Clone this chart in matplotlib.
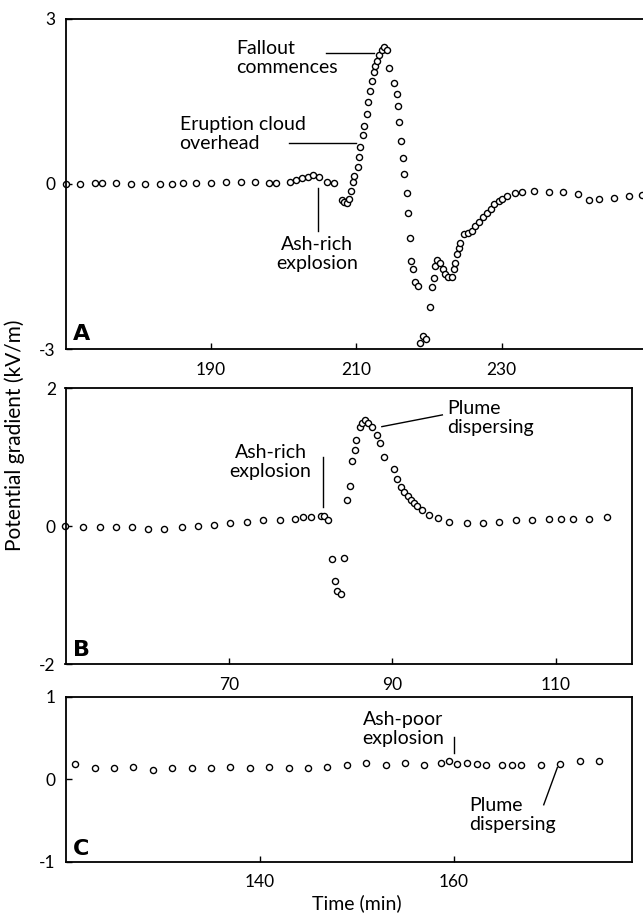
import matplotlib
matplotlib.use("Agg")
import matplotlib.pyplot as plt

plt.rcParams["font.family"] = ["Lato", "DejaVu Sans"]
plt.rcParams["axes.unicode_minus"] = False

# panel A: ash-rich explosion, eruption cloud overhead
a_time = [170.0, 172.0, 174.0, 175.0, 177.0, 179.0, 181.0, 183.0, 184.6, 186.1,
          188.0, 190.0, 192.1, 194.2, 196.1, 198.0, 198.9, 200.9, 201.7, 202.6,
          203.3, 204.1, 204.9, 206.0, 207.0,
          208.05, 208.36, 208.68, 208.95, 209.28, 209.5, 209.74, 210.19, 210.33, 210.52,
          210.88, 211.07, 211.49, 211.66, 211.84, 212.17, 212.39, 212.63, 212.86, 213.18,
          213.49, 213.87, 214.24, 214.55, 215.14, 215.56, 215.69, 215.83, 216.16, 216.48,
          216.62, 216.93, 217.07, 217.4, 217.54, 217.76, 218.13, 218.45, 218.78, 219.14,
          219.61, 220.15, 220.43, 220.65, 220.88, 221.12, 221.53, 221.88, 222.25, 222.57,
          223.12, 223.4, 223.63, 223.86, 224.08, 224.32, 224.87, 225.42, 225.87, 226.38,
          226.93, 227.48, 227.94, 228.54, 229.0, 229.59, 230.0, 230.74, 231.88, 232.81,
          234.5, 236.46, 238.49, 240.55, 241.97, 243.44, 245.5, 247.47, 249.31]
a_value = [0.0, -0.01, 0.01, 0.01, 0.01, -0.01, 0.0, -0.01, 0.0, 0.01,
           0.02, 0.02, 0.04, 0.04, 0.04, 0.02, 0.02, 0.04, 0.07, 0.10,
           0.13, 0.16, 0.13, 0.04, 0.02,
           -0.30, -0.34, -0.35, -0.28, -0.14, 0.04, 0.14, 0.31, 0.48, 0.67,
           0.89, 1.05, 1.26, 1.48, 1.68, 1.87, 2.03, 2.13, 2.23, 2.34,
           2.42, 2.48, 2.42, 2.11, 1.82, 1.63, 1.41, 1.12, 0.78, 0.46,
           0.17, -0.16, -0.53, -0.99, -1.40, -1.55, -1.78, -1.86, -2.89, -2.76,
           -2.81, -2.24, -1.87, -1.72, -1.49, -1.38, -1.43, -1.54, -1.63, -1.69,
           -1.70, -1.54, -1.43, -1.28, -1.17, -1.07, -0.91, -0.89, -0.85, -0.77,
           -0.69, -0.60, -0.53, -0.45, -0.37, -0.31, -0.28, -0.22, -0.17, -0.15,
           -0.13, -0.15, -0.15, -0.19, -0.30, -0.27, -0.25, -0.22, -0.20]

# panel B: ash-rich explosion, plume dispersing
b_time = [50.0, 52.2, 54.2, 56.2, 58.1, 60.1, 62.1, 64.2, 66.2, 68.2,
          70.1, 72.2, 74.2, 76.2, 78.09, 79.07, 80.09, 81.22, 81.64, 82.17,
          82.66, 82.99, 83.18, 83.76, 84.09, 84.49, 84.78, 85.1, 85.39, 85.59,
          86.04, 86.33, 86.66, 87.06, 87.55, 88.08, 88.49, 88.98, 90.21, 90.61,
          91.02, 91.43, 91.84, 92.24, 92.66, 93.06, 93.59, 94.49, 95.51, 96.94,
          99.09, 101.05, 103.06, 105.07, 107.12, 109.13, 110.64, 112.14, 114.1, 116.25]
b_value = [0.0, -0.02, -0.02, -0.02, -0.02, -0.04, -0.04, -0.02, 0.0, 0.02,
           0.04, 0.06, 0.08, 0.08, 0.10, 0.13, 0.13, 0.15, 0.14, 0.08,
           -0.48, -0.79, -0.94, -0.99, -0.47, 0.38, 0.58, 0.94, 1.10, 1.25,
           1.44, 1.50, 1.53, 1.50, 1.44, 1.32, 1.20, 1.00, 0.82, 0.68,
           0.56, 0.50, 0.44, 0.38, 0.33, 0.29, 0.23, 0.16, 0.11, 0.06,
           0.05, 0.05, 0.06, 0.09, 0.09, 0.10, 0.10, 0.10, 0.10, 0.13]

# panel C: ash-poor explosion
c_time = [121, 123, 125, 127, 129, 131, 133, 135, 137, 139,
          141, 143, 145, 147, 149, 151, 153, 155, 157, 158.7,
          159.5, 160.4, 161.4, 162.4, 163.4, 165, 166, 167, 169, 171,
          173, 175]
c_value = [0.19, 0.14, 0.13, 0.15, 0.11, 0.13, 0.13, 0.13, 0.15, 0.13,
           0.15, 0.13, 0.13, 0.15, 0.17, 0.20, 0.17, 0.20, 0.17, 0.20,
           0.22, 0.19, 0.20, 0.19, 0.17, 0.17, 0.17, 0.17, 0.17, 0.19,
           0.22, 0.22]

a_ticks = [190, 210, 230]
b_ticks = [70, 90, 110]
c_ticks = [140, 160]

W, H = 643, 913
fig = plt.figure(figsize=(W / 100, H / 100), dpi=100)


def px_axes(left, top, right, bottom):
    return fig.add_axes([left / W, 1 - bottom / H, (right - left) / W, (bottom - top) / H])


def style(ax, xlim, ylim, xticks, letter):
    ax.set_xlim(*xlim)
    ax.set_ylim(*ylim)
    ax.set_xticks(xticks)
    ax.set_yticks([ylim[0], 0, ylim[1]])
    ax.tick_params(direction="in", length=4, width=1, top=False, right=False,
                   labelsize=12.5, pad=7)
    ax.tick_params(axis="x", pad=9)
    for s in ax.spines.values():
        s.set_linewidth(1.3)
    ax.text(0.013, 0.015, letter, transform=ax.transAxes, fontsize=16,
            fontweight="bold", family="DejaVu Sans", ha="left", va="bottom")


def dots(ax, t, v):
    ax.plot(t, v, "o", ms=4.4, mfc="white", mec="black", mew=1.0, clip_on=False)


TXT = dict(fontsize=14, linespacing=1.12)
LINE = dict(color="black", lw=1.0)

ax_a = px_axes(65.5, 18.5, 647.7, 349)
style(ax_a, (170, 250.1), (-3, 3), a_ticks, "A")
dots(ax_a, a_time, a_value)
ax_a.text(193.5, 2.28, "Fallout\ncommences", ha="left", va="center", **TXT)
ax_a.plot([205.9, 212.5], [2.38, 2.38], **LINE)
ax_a.text(185.7, 0.9, "Eruption cloud\noverhead", ha="left", va="center", **TXT)
ax_a.plot([200.7, 209.9], [0.74, 0.74], **LINE)
ax_a.text(204.65, -1.28, "Ash-rich\nexplosion", ha="center", va="center", **TXT)
ax_a.plot([204.7, 204.7], [-0.08, -0.86], **LINE)

ax_b = px_axes(65.5, 388, 632, 664)
style(ax_b, (50, 119.3), (-2, 2), b_ticks, "B")
dots(ax_b, b_time, b_value)
ax_b.text(75.1, 0.93, "Ash-rich\nexplosion", ha="center", va="center", **TXT)
ax_b.plot([81.55, 81.55], [1.0, 0.28], **LINE)
ax_b.text(96.7, 1.57, "Plume\ndispersing", ha="left", va="center", **TXT)
ax_b.plot([88.7, 96.1], [1.44, 1.61], **LINE)

ax_c = px_axes(65.5, 696.7, 632, 861.7)
style(ax_c, (120, 178.4), (-1, 1), c_ticks, "C")
dots(ax_c, c_time, c_value)
ax_c.text(154.8, 0.61, "Ash-poor\nexplosion", ha="center", va="center", **TXT)
ax_c.plot([160.0, 160.0], [0.51, 0.32], **LINE)
ax_c.text(161.65, -0.43, "Plume\ndispersing", ha="left", va="center", **TXT)
ax_c.plot([169.3, 170.7], [-0.31, 0.14], **LINE)

fig.text(357 / W, 1 - 903 / H, "Time (min)", ha="center", va="center", fontsize=14)
fig.text(15 / W, 1 - 435 / H, "Potential gradient (kV/m)", rotation=90,
         ha="center", va="center", fontsize=15)

fig.savefig("out.png", dpi=100)
